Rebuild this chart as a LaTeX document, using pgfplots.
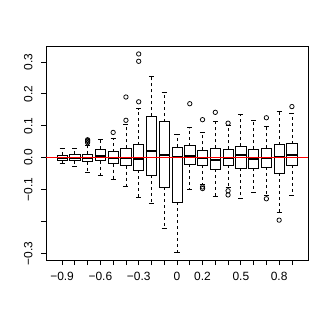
\documentclass[border=0pt]{standalone}
\usepackage{pgfplots}
\pgfplotsset{compat=1.18}
\usepgfplotslibrary{statistics}
\usepackage{fontspec}
\setmainfont{Liberation Sans}
\definecolor{rred}{RGB}{255,0,0}
\begin{document}
\begin{tikzpicture}
\begin{axis}[
  scale only axis, width=262bp, height=214bp,
  xmin=-1.026, xmax=1.026, ymin=-0.321, ymax=0.350,
  axis line style={line width=0.75bp},
  tick style={line width=0.75bp, black},
  tick align=outside, major tick length=5bp, tick pos=left,
  xtick={-0.9,-0.8,-0.7,-0.6,-0.5,-0.4,-0.3,-0.2,-0.1,0,0.1,0.2,0.3,0.4,0.5,0.6,0.7,0.8,0.9},
  xticklabels={−0.9,,,−0.6,,,−0.3,,,0,,0.2,,,0.5,,,0.8,},
  ytick={-0.3,-0.2,-0.1,0,0.1,0.2,0.3},
  yticklabels={−0.3,,−0.1,0.0,0.1,0.2,0.3},
  tick label style={font=\fontsize{12}{14}\selectfont},
  yticklabel style={rotate=90, anchor=south},
  xticklabel shift=4bp, yticklabel shift=5bp,
  boxplot/draw direction=y,
  boxplot/box extend=0.08,
  boxplot/whisker extend=0.04,
  boxplot/every box/.style={draw=black, line width=0.75bp},
  boxplot/every median/.style={draw=black, line width=2bp},
  /pgfplots/boxplot/draw/lower whisker/.code={
    \draw[black, line width=0.75bp, dash pattern=on 3bp off 3bp] (boxplot box cs:\pgfplotsboxplotvalue{lower quartile},0.5) -- (boxplot box cs:\pgfplotsboxplotvalue{lower whisker},0.5);
    \draw[black, line width=0.75bp] (boxplot whisker cs:\pgfplotsboxplotvalue{lower whisker},0) -- (boxplot whisker cs:\pgfplotsboxplotvalue{lower whisker},1);
  },
  /pgfplots/boxplot/draw/upper whisker/.code={
    \draw[black, line width=0.75bp, dash pattern=on 3bp off 3bp] (boxplot box cs:\pgfplotsboxplotvalue{upper quartile},0.5) -- (boxplot box cs:\pgfplotsboxplotvalue{upper whisker},0.5);
    \draw[black, line width=0.75bp] (boxplot whisker cs:\pgfplotsboxplotvalue{upper whisker},0) -- (boxplot whisker cs:\pgfplotsboxplotvalue{upper whisker},1);
  },
  bx/.style={black, solid, mark=o, mark size=2.2bp, mark options={line width=0.75bp}},
]
\addplot[bx, boxplot prepared={draw position=-0.9, lower whisker=-0.019, lower quartile=-0.008, median=0.0, upper quartile=0.008, upper whisker=0.029}] coordinates {};
\addplot[bx, boxplot prepared={draw position=-0.8, lower whisker=-0.027, lower quartile=-0.010, median=0.0, upper quartile=0.010, upper whisker=0.029}] coordinates {};
\addplot[bx, boxplot prepared={draw position=-0.7, lower whisker=-0.045, lower quartile=-0.0125, median=-0.002, upper quartile=0.010, upper whisker=0.037}] table[row sep=\\, y index=0] {y\\ 0.047\\ 0.051\\ 0.054\\ 0.056\\};
\addplot[bx, boxplot prepared={draw position=-0.6, lower whisker=-0.057, lower quartile=-0.010, median=0.005, upper quartile=0.027, upper whisker=0.057}] coordinates {};
\addplot[bx, boxplot prepared={draw position=-0.5, lower whisker=-0.069, lower quartile=-0.019, median=0.0, upper quartile=0.019, upper whisker=0.060}] table[row sep=\\, y index=0] {y\\ 0.079\\};
\addplot[bx, boxplot prepared={draw position=-0.4, lower whisker=-0.090, lower quartile=-0.025, median=0.0, upper quartile=0.029, upper whisker=0.104}] table[row sep=\\, y index=0] {y\\ 0.117\\ 0.190\\};
\addplot[bx, boxplot prepared={draw position=-0.3, lower whisker=-0.126, lower quartile=-0.040, median=-0.004, upper quartile=0.040, upper whisker=0.154}] table[row sep=\\, y index=0] {y\\ 0.175\\ 0.302\\ 0.325\\};
\addplot[bx, boxplot prepared={draw position=-0.2, lower whisker=-0.142, lower quartile=-0.056, median=0.022, upper quartile=0.129, upper whisker=0.254}] coordinates {};
\addplot[bx, boxplot prepared={draw position=-0.1, lower whisker=-0.222, lower quartile=-0.093, median=0.008, upper quartile=0.1125, upper whisker=0.204}] coordinates {};
\addplot[bx, boxplot prepared={draw position=0.0, lower whisker=-0.296, lower quartile=-0.140, median=0.003, upper quartile=0.033, upper whisker=0.073}] coordinates {};
\addplot[bx, boxplot prepared={draw position=0.1, lower whisker=-0.098, lower quartile=-0.021, median=0.004, upper quartile=0.0375, upper whisker=0.094}] table[row sep=\\, y index=0] {y\\ 0.169\\};
\addplot[bx, boxplot prepared={draw position=0.2, lower whisker=-0.084, lower quartile=-0.023, median=-0.002, upper quartile=0.023, upper whisker=0.079}] table[row sep=\\, y index=0] {y\\ 0.119\\ -0.092\\ -0.097\\};
\addplot[bx, boxplot prepared={draw position=0.3, lower whisker=-0.121, lower quartile=-0.036, median=-0.006, upper quartile=0.029, upper whisker=0.115}] table[row sep=\\, y index=0] {y\\ 0.142\\};
\addplot[bx, boxplot prepared={draw position=0.4, lower whisker=-0.092, lower quartile=-0.023, median=-0.002, upper quartile=0.027, upper whisker=0.102}] table[row sep=\\, y index=0] {y\\ 0.108\\ -0.104\\ -0.117\\};
\addplot[bx, boxplot prepared={draw position=0.5, lower whisker=-0.129, lower quartile=-0.034, median=0.008, upper quartile=0.035, upper whisker=0.135}] coordinates {};
\addplot[bx, boxplot prepared={draw position=0.6, lower whisker=-0.110, lower quartile=-0.033, median=-0.004, upper quartile=0.027, upper whisker=0.117}] coordinates {};
\addplot[bx, boxplot prepared={draw position=0.7, lower whisker=-0.117, lower quartile=-0.030, median=0.0, upper quartile=0.029, upper whisker=0.098}] table[row sep=\\, y index=0] {y\\ 0.125\\ -0.129\\};
\addplot[bx, boxplot prepared={draw position=0.8, lower whisker=-0.173, lower quartile=-0.048, median=0.002, upper quartile=0.040, upper whisker=0.146}] table[row sep=\\, y index=0] {y\\ -0.196\\};
\addplot[bx, boxplot prepared={draw position=0.9, lower whisker=-0.119, lower quartile=-0.023, median=0.008, upper quartile=0.044, upper whisker=0.1375}] table[row sep=\\, y index=0] {y\\ 0.160\\};
\addplot[draw=rred, color=rred, solid, no marks, line width=0.75bp, forget plot] table[row sep=\\] {x y\\ -1.026 0\\ 1.026 0\\};
\end{axis}
\path ([xshift=-46bp,yshift=-59bp]current axis.south west) rectangle ([xshift=24bp,yshift=46bp]current axis.north east);
\end{tikzpicture}
\end{document}
